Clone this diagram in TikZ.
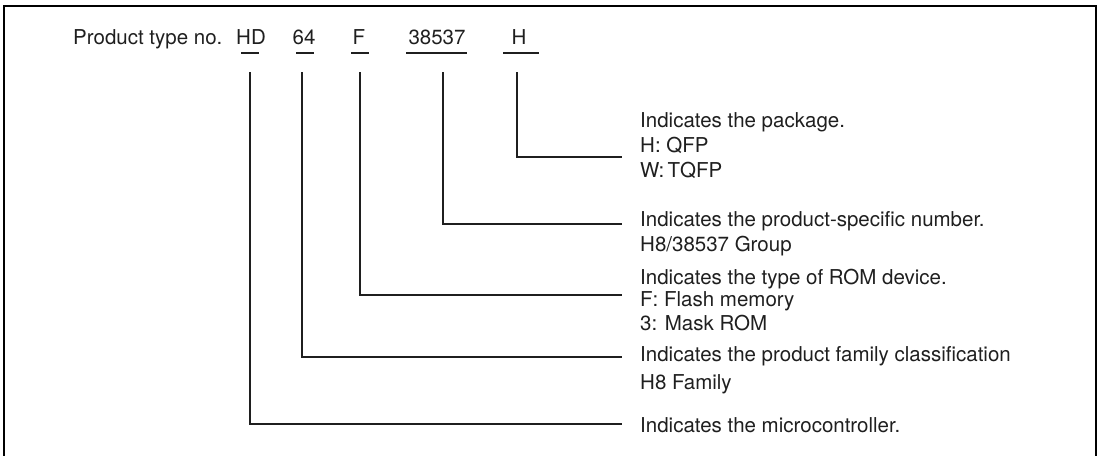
\documentclass[tikz,border=0pt]{standalone}
\usepackage{fontspec}
\setmainfont{TeX Gyre Heros}
\begin{document}
\begin{tikzpicture}[x=1pt,y=-1pt,
  lbl/.style={font=\fontsize{20.5}{25}\selectfont, inner sep=0pt, anchor=base west, text=black!88},
  code/.style={lbl, anchor=base},
  conn/.style={line width=2.2pt, draw=black!88, line join=miter},
  uline/.style={line width=2.2pt, draw=black!88},
  frame/.style={line width=2.6pt, draw=black}]
\useasboundingbox (0,0) rectangle (1100,455);
\draw[frame] (4,470) -- (4,6) -- (1096,6) -- (1096,470);
% product code
\node[lbl]  (ptn) at (73,44)  {Product type no.};
\node[code] (hd)  at (251,44) {HD};
\node[code] (sf)  at (304,44) {64};
\node[code] (rom) at (359,44) {F};
\node[code] (num) at (437,44) {38537};
\node[code] (pkg) at (519,44) {H};
\draw[uline] (241,53) -- (259,53);
\draw[uline] (296,53) -- (314,53);
\draw[uline] (351,53) -- (369,53);
\draw[uline] (406,53) -- (467,53);
\draw[uline] (503,53) -- (539,53);
% connector tops
\coordinate (hdtop)  at (250,72);
\coordinate (sftop)  at (302,72);
\coordinate (romtop) at (360,72);
\coordinate (numtop) at (443,72);
\coordinate (pkgtop) at (517,72);
% connector ends
\coordinate (pkgend) at (622,157);
\coordinate (numend) at (622,224);
\coordinate (romend) at (622,295);
\coordinate (sfend)  at (622,357);
\coordinate (hdend)  at (622,424);
% descriptions
\node[lbl] (pk1) at (640,127) {Indicates the package.};
\node[lbl] (pk2) at (640,152) {H: QFP};
\node[lbl] (pk3) at (640,177) {W:\,TQFP};
\node[lbl] (nu1) at (640,226) {Indicates the product-specific number.};
\node[lbl] (nu2) at (640,251) {H8/38537 Group};
\node[lbl] (ro1) at (640,284) {Indicates the type of ROM device.};
\node[lbl] (ro2) at (640,306) {F: Flash memory};
\node[lbl] (ro3) at (640,330) {3: Mask ROM};
\node[lbl] (sf1) at (640,361) {Indicates the product family classification};
\node[lbl] (sf2) at (640,389) {H8 Family};
\node[lbl] (hd1) at (640,432) {Indicates the microcontroller.};
% connectors
\draw[conn] (pkgtop) |- (pkgend);
\draw[conn] (numtop) |- (numend);
\draw[conn] (romtop) |- (romend);
\draw[conn] (sftop)  |- (sfend);
\draw[conn] (hdtop)  |- (hdend);
\end{tikzpicture}
\end{document}
